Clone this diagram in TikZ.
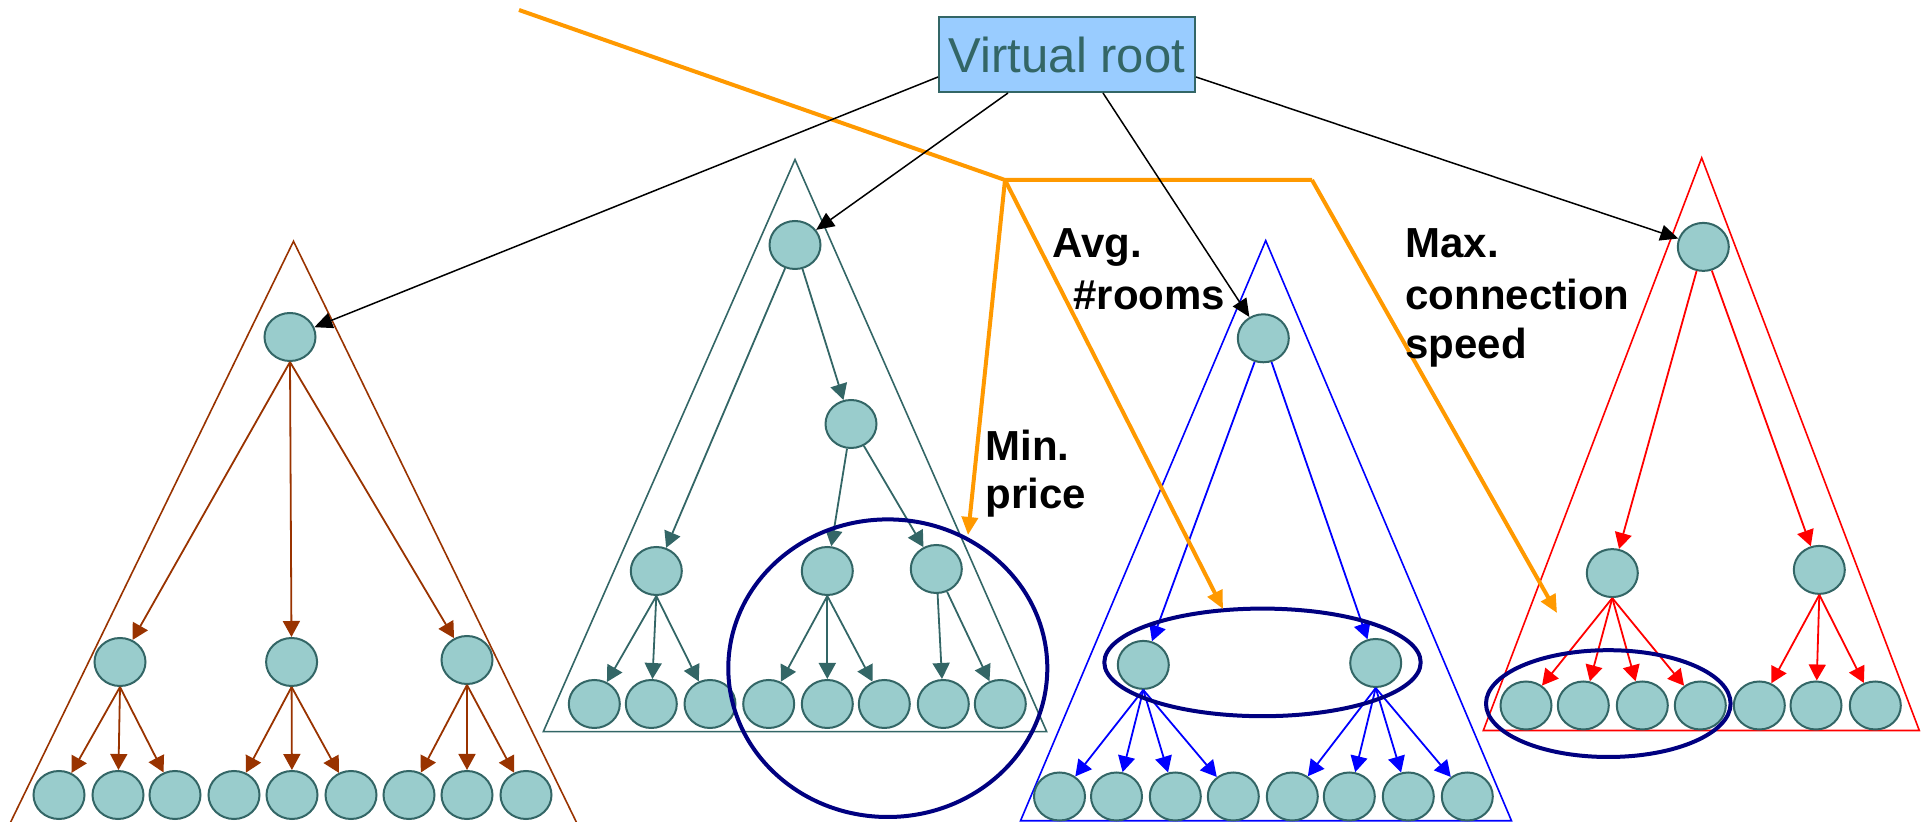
\documentclass[tikz,border=0pt]{standalone}
\usepackage{fontspec}
\setmainfont{Liberation Sans}
\usetikzlibrary{arrows.meta,shapes.geometric}
\definecolor{treebrown}{HTML}{993300}
\definecolor{treeteal}{HTML}{336666}
\definecolor{treeblue}{HTML}{0000FF}
\definecolor{treered}{HTML}{FF0000}
\definecolor{ringnavy}{HTML}{000080}
\definecolor{pathorange}{HTML}{FF9900}
\definecolor{nodefill}{HTML}{99CCCC}
\definecolor{boxfill}{HTML}{99CCFF}
\begin{document}
\begin{tikzpicture}[x=0.5pt,y=-0.5pt,
  vnode/.style={ellipse, draw=treeteal, fill=nodefill, line width=1pt,
    minimum width=25.5pt, minimum height=24pt, inner sep=0pt},
  tri/.style={line width=0.8pt, line join=miter},
  kid/.style={-{Triangle[length=8pt,width=8.5pt]}, line width=0.9pt},
  rootlink/.style={-{Triangle[length=9pt,width=8pt]}, line width=0.75pt, draw=black},
  ring/.style={draw=ringnavy, line width=2pt},
  query/.style={draw=pathorange, line width=2pt},
  queryarrow/.style={query, -{Triangle[length=9pt,width=8pt]}},
  lbl/.style={font=\fontsize{21}{25}\selectfont\bfseries, anchor=base west, inner sep=0pt, text=black}]
\useasboundingbox (0,0) rectangle (1929,822);
\clip (0,0) rectangle (1929,822);

% ---- subtree outlines ----
\draw[tri, treebrown] (-27.3,900) -- (293.5,241.3) -- (614.3,900);
\draw[tri, treeteal] (543.3,731.7) -- (795,159.6) -- (1046.7,731.7) -- cycle;
\draw[tri, treeblue] (1020.5,820.8) -- (1265.7,240.6) -- (1511.5,820.8) -- cycle;
\draw[tri, treered] (1483.3,730.5) -- (1701.7,157.9) -- (1919.3,730.5) -- cycle;

% ---- virtual root ----
\node[draw=treeteal, fill=boxfill, line width=1pt, minimum width=128pt, minimum height=37.5pt,
  inner sep=0pt, text=treeteal, font=\fontsize{24.5}{28}\selectfont] (vroot) at (1067,54.5) {Virtual root};

% ---- brown subtree ----
\node[vnode] (L0) at (290,337) {};
\node[vnode] (L1) at (120,662) {};
\node[vnode] (L2) at (291.6,662) {};
\node[vnode] (L3) at (467,660) {};
\foreach \x [count=\i] in {59,118,175,234,292,351,409,467,526}
  \node[vnode] (Ll\i) at (\x,795) {};
\foreach \c in {1,2,3} \draw[kid, treebrown] (L0.south) -- (L\c);
\foreach \c in {1,2,3} \draw[kid, treebrown] (L1.south) -- (Ll\c);
\foreach \c in {4,5,6} \draw[kid, treebrown] (L2.south) -- (Ll\c);
\foreach \c in {7,8,9} \draw[kid, treebrown] (L3.south) -- (Ll\c);

% ---- teal subtree ----
\node[vnode] (M0) at (795,245) {};
\node[vnode] (M1) at (851,424) {};
\node[vnode] (M2) at (656.3,571) {};
\node[vnode] (M3) at (827.3,571) {};
\node[vnode] (M4) at (936.3,569) {};
\foreach \x [count=\i] in {594.3,651.3,710,768.7,827.3,884.3,943.3,1000.3}
  \node[vnode] (Ml\i) at (\x,704) {};
\draw[kid, treeteal] (M0) -- (M2);
\draw[kid, treeteal] (M0) -- (M1);
\draw[kid, treeteal] (M1) -- (M3);
\draw[kid, treeteal] (M1) -- (M4);
\foreach \c in {1,2,3} \draw[kid, treeteal] (M2.south) -- (Ml\c);
\foreach \c in {4,5,6} \draw[kid, treeteal] (M3.south) -- (Ml\c);
\foreach \c in {7,8} \draw[kid, treeteal] (M4) -- (Ml\c);

% ---- blue subtree ----
\node[vnode] (B0) at (1263.3,338.3) {};
\node[vnode] (B1) at (1143.3,664.9) {};
\node[vnode] (B2) at (1375.7,663) {};
\foreach \x [count=\i] in {1059.5,1116.5,1175.3,1233.3,1292.3,1349.3,1408.3,1467.3}
  \node[vnode] (Bl\i) at (\x,796.5) {};
\draw[kid, treeblue] (B0) -- (B1);
\draw[kid, treeblue] (B0) -- (B2);
\foreach \c in {1,2,3,4} \draw[kid, treeblue] (B1.south) -- (Bl\c);
\foreach \c in {5,6,7,8} \draw[kid, treeblue] (B2.south) -- (Bl\c);

% ---- red subtree ----
\node[vnode] (R0) at (1703.3,246.9) {};
\node[vnode] (R1) at (1612.3,573.1) {};
\node[vnode] (R2) at (1819.3,569.9) {};
\foreach \x [count=\i] in {1526,1583.3,1642.3,1700.3,1759.3,1816,1875.3}
  \node[vnode] (Rl\i) at (\x,705.5) {};
\draw[kid, treered] (R0) -- (R1);
\draw[kid, treered] (R0) -- (R2);
\foreach \c in {1,2,3,4} \draw[kid, treered] (R1.south) -- (Rl\c);
\foreach \c in {5,6,7} \draw[kid, treered] (R2.south) -- (Rl\c);

% ---- selected groups ----
\draw[ring] (887.8,668.2) ellipse [x radius=79.75pt, y radius=74.4pt];
\draw[ring] (1262.5,662.4) ellipse [x radius=79.1pt, y radius=26.9pt];
\draw[ring] (1608.3,703.6) ellipse [x radius=61.15pt, y radius=26.7pt];

% ---- query path ----
\coordinate (qstart) at (519,10);
\coordinate (qfork) at (1005,180);
\coordinate (qbend) at (1312,180);
\coordinate (qmin) at (968,535);
\coordinate (qavg) at (1223,609);
\coordinate (qmax) at (1557,613);
\draw[query, line join=miter] (qstart) -- (qfork) -- (qbend);
\draw[queryarrow] (qfork) -- (qmin);
\draw[queryarrow] (qfork) -- (qavg);
\draw[queryarrow] (qbend) -- (qmax);

% ---- links from the virtual root ----
\draw[rootlink] ([yshift=8pt]vroot.south west) -- (L0);
\draw[rootlink] ([xshift=35pt]vroot.south west) -- (M0);
\draw[rootlink] ([xshift=82.5pt]vroot.south west) -- (B0);
\draw[rootlink] ([yshift=8pt]vroot.south east) -- (R0);

% ---- labels ----
\node[lbl] (minA) at (985,461) {Min.};
\node[lbl] (minB) at (985,508.5) {price};
\node[lbl] (avgA) at (1052,258) {Avg.};
\node[lbl] (avgB) at (1073,310) {\#rooms};
\node[lbl] (maxA) at (1405,258) {Max.};
\node[lbl] (maxB) at (1405,310) {connection};
\node[lbl] (maxC) at (1405,358.5) {speed};
\end{tikzpicture}
\end{document}
